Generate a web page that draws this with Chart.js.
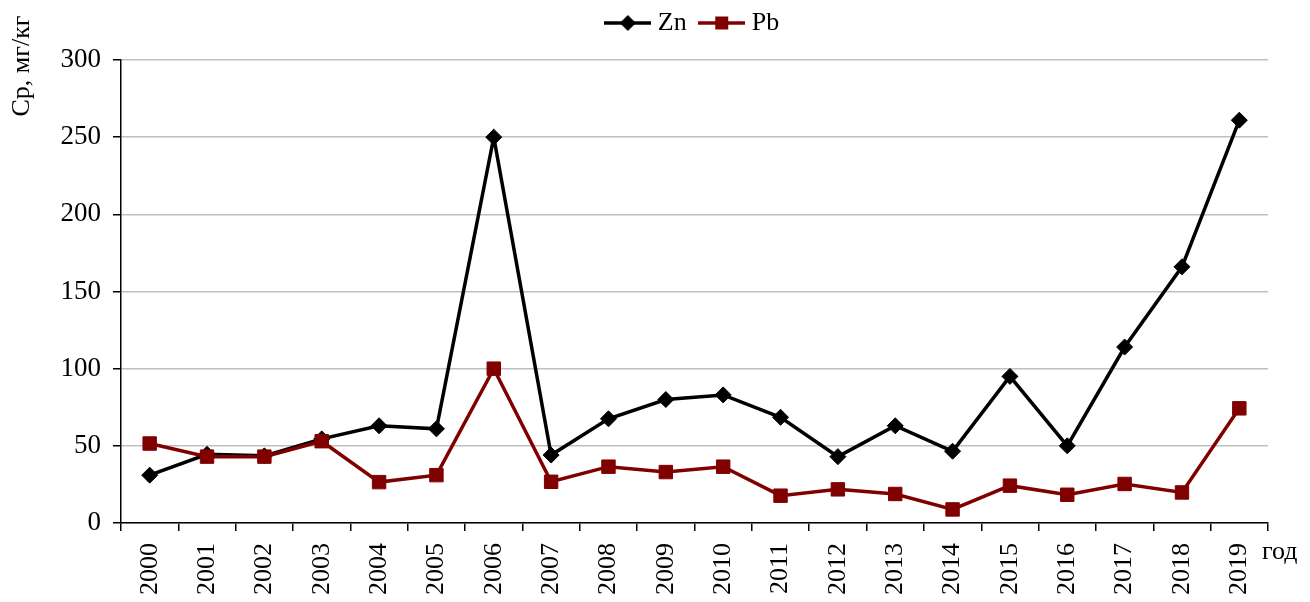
<!DOCTYPE html>
<html>
<head>
<meta charset="utf-8">
<script src="https://cdn.jsdelivr.net/npm/chart.js@4"></script>
<style>
  body { margin: 0; background: #fff; }
  #wrap { width: 1310px; height: 602px; position: relative; }
</style>
</head>
<body>
<div id="wrap"><canvas id="chart"></canvas></div>
<script>
const years = ['2000', '2001', '2002', '2003', '2004', '2005', '2006', '2007', '2008', '2009',
  '2010', '2011', '2012', '2013', '2014', '2015', '2016', '2017', '2018', '2019'];
const zn = [31, 44.5, 43.5, 54.5, 63, 61, 250, 44, 67.5, 80, 83, 68.5, 43, 63, 46.5, 95, 50, 114, 166, 261];
const pb = [51.5, 43, 43, 53, 26.5, 31, 100, 26.7, 36.5, 33, 36.5, 17.7, 21.8, 18.8, 8.8, 24.2, 18.3, 25.3, 19.8, 74.3];
const yTicks = [0, 50, 100, 150, 200, 250, 300];

const FONT = 'Liberation Serif';
const RED = '#800000';

Chart.defaults.font.family = FONT;
Chart.defaults.font.size = 26;
Chart.defaults.color = '#000';

// little legend pictures: line with marker in the middle
function legendIcon(color, shape) {
  const c = document.createElement('canvas');
  c.width = 47;
  c.height = 20;
  const g = c.getContext('2d');
  g.strokeStyle = color;
  g.fillStyle = color;
  g.lineWidth = 3.5;
  g.beginPath();
  g.moveTo(0, 10);
  g.lineTo(47, 10);
  g.stroke();
  g.beginPath();
  if (shape === 'diamond') {
    g.moveTo(23.5, 2); g.lineTo(31.5, 10); g.lineTo(23.5, 18); g.lineTo(15.5, 10);
  } else {
    g.rect(17, 3.5, 13, 13);
  }
  g.closePath();
  g.fill();
  return c;
}
const icons = [legendIcon('#000', 'diamond'), legendIcon(RED, 'square')];

// legend sits a bit higher and to the right of the canvas centre
const moveLegend = {
  id: 'moveLegend',
  afterLayout(chart) {
    const lg = chart.legend;
    lg.left += 61; lg.right += 61;
    lg.top -= 14; lg.bottom -= 14;
  }
};

const extraText = {
  id: 'extraText',
  afterDraw(chart) {
    const ctx = chart.ctx;
    ctx.save();
    ctx.fillStyle = '#000';
    ctx.font = '26px ' + FONT;
    // x axis unit
    ctx.textAlign = 'left';
    ctx.textBaseline = 'alphabetic';
    ctx.fillText('год', 1262, 559);
    // y axis title
    ctx.translate(22, 66);
    ctx.rotate(-Math.PI / 2);
    ctx.textAlign = 'center';
    ctx.textBaseline = 'middle';
    ctx.fillText('Ср, мг/кг', 0, 0);
    ctx.restore();
  }
};

const ctx = document.getElementById('chart').getContext('2d');
new Chart(ctx, {
  type: 'line',
  data: {
    labels: years,
    datasets: [{
      label: 'Zn',
      data: zn,
      borderColor: '#000',
      backgroundColor: '#000',
      borderWidth: 3.5,
      pointStyle: 'rectRot',
      pointRadius: 8,
      pointBorderWidth: 1,
      tension: 0,
      order: 1
    }, {
      label: 'Pb',
      data: pb,
      borderColor: RED,
      backgroundColor: RED,
      borderWidth: 3.5,
      pointStyle: 'rect',
      pointRadius: 9.5,
      pointBorderWidth: 1,
      tension: 0,
      order: 0
    }]
  },
  options: {
    responsive: true,
    maintainAspectRatio: false,
    animation: false,
    layout: { padding: { left: 0, right: 42, top: 6, bottom: 0 } },
    plugins: {
      tooltip: { enabled: false },
      legend: {
        position: 'top',
        labels: {
          usePointStyle: true,
          pointStyleWidth: 34,
          padding: 18,
          font: { size: 26 },
          generateLabels(chart) {
            return chart.data.datasets.map((ds, i) => ({
              text: ds.label,
              pointStyle: icons[i],
              fillStyle: ds.borderColor,
              strokeStyle: ds.borderColor,
              lineWidth: 0,
              datasetIndex: i,
              hidden: false
            }));
          }
        }
      }
    },
    scales: {
      x: {
        offset: true,
        grid: {
          offset: true,
          drawOnChartArea: false,
          drawTicks: true,
          tickLength: 8,
          color: '#000',
          lineWidth: 1.5
        },
        border: { color: '#000', width: 1.5 },
        ticks: {
          minRotation: 90,
          maxRotation: 90,
          padding: 12,
          font: { size: 26 }
        },
        afterFit(scale) { scale.height = 79; }
      },
      y: {
        min: 0,
        max: 300,
        afterBuildTicks(scale) { scale.ticks = yTicks.map(v => ({ value: v })); },
        grid: {
          color: '#c0c0c0',
          lineWidth: 1.5,
          tickColor: '#000',
          tickLength: 8
        },
        border: { color: '#000', width: 1.5 },
        ticks: { padding: 12, font: { size: 27 } },
        afterFit(scale) { scale.width = 121; }
      }
    }
  },
  plugins: [moveLegend, extraText]
});
</script>
</body>
</html>
